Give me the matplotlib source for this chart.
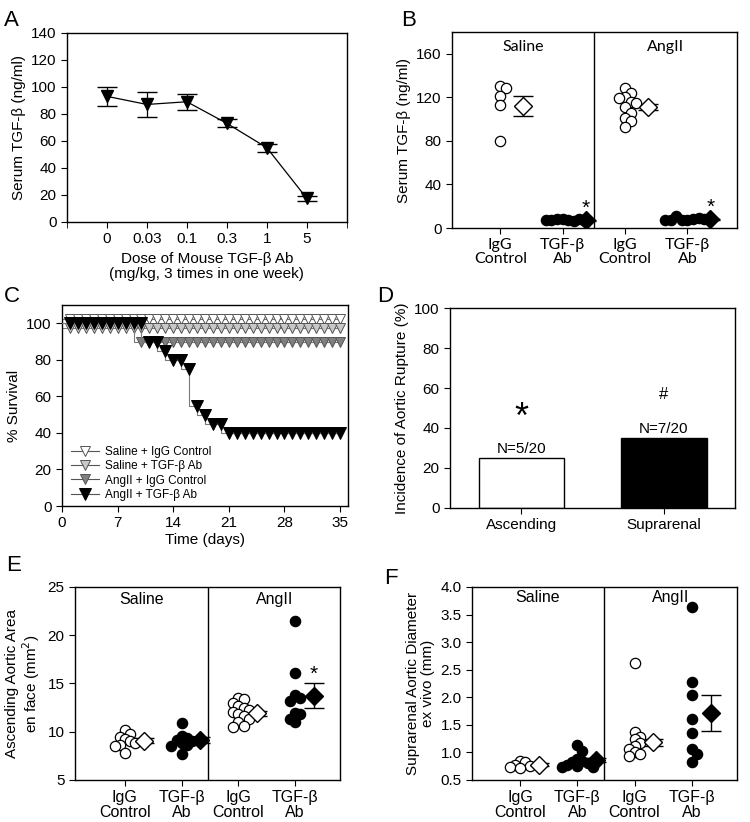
import matplotlib
matplotlib.use('Agg')
import matplotlib.pyplot as plt
import numpy as np

plt.rcParams['font.family'] = ['Liberation Sans', 'DejaVu Sans']
plt.rcParams['font.size'] = 11
plt.rcParams['xtick.direction'] = 'out'
plt.rcParams['ytick.direction'] = 'out'
plt.rcParams['axes.linewidth'] = 1.0

# ---- A: dose response
doses = ['0', '0.03', '0.1', '0.3', '1', '5']
dose_mean = [93, 87, 89, 73, 55, 17.5]
dose_err = [7, 9, 6, 3, 3, 2]

# ---- B: serum TGF-b
groups = ['IgG\nControl', 'TGF-β\nAb', 'IgG\nControl', 'TGF-β\nAb']
serum_pts = [
    [130, 129, 121, 113, 80],
    [8, 7, 8, 6, 7, 8, 7, 6],
    [129, 124, 120, 119, 116, 115, 111, 106, 101, 98, 93],
    [7, 8, 7, 9, 11, 8, 7, 8, 7],
]
serum_mean = [112, 7, 111, 8]
serum_err = [9, 0.8, 3, 0.6]

# ---- C: survival
days = list(range(1, 36))
surv_saline_igg = [100] * 35
surv_saline_ab = [100] * 35
surv_angii_igg = [100] * 9 + [90] * 26
surv_angii_ab = [100] * 10 + [90, 90, 85, 80, 80, 75, 55, 50, 45, 45] + [40] * 15
surv_labels = ['Saline + IgG Control', 'Saline + TGF-β Ab',
               'AngII + IgG Control', 'AngII + TGF-β Ab']

# ---- D: rupture incidence
sites = ['Ascending', 'Suprarenal']
rupture = [25, 35]
rupture_n = ['N=5/20', 'N=7/20']

# ---- E: ascending aortic area
area_pts = [
    [10.2, 9.8, 9.5, 9.2, 9.0, 8.8, 8.6, 8.5, 7.8],
    [10.9, 9.6, 9.3, 9.1, 9.0, 8.8, 8.6, 8.5, 7.7],
    [13.5, 13.4, 13.0, 12.7, 12.5, 12.3, 12.0, 11.8, 11.6, 11.3, 11.0, 10.6, 10.5],
    [21.5, 16.1, 13.8, 13.5, 13.2, 11.9, 11.8, 11.3, 11.0],
]
area_mean = [9.05, 9.15, 11.9, 13.75]
area_err = [0.25, 0.3, 0.25, 1.25]

# ---- F: suprarenal diameter
diam_pts = [
    [0.84, 0.82, 0.78, 0.76, 0.74, 0.72],
    [1.13, 1.03, 0.88, 0.84, 0.82, 0.80, 0.78, 0.76, 0.74, 0.73],
    [2.63, 1.37, 1.28, 1.24, 1.17, 1.12, 1.06, 1.01, 0.98, 0.94],
    [3.64, 2.27, 2.04, 1.61, 1.36, 1.07, 0.98, 0.83],
]
diam_mean = [0.78, 0.86, 1.18, 1.71]
diam_err = [0.02, 0.04, 0.06, 0.33]


def swarm(vals, ysep, dx):
    # simple deterministic beeswarm: push a dot sideways while it collides
    placed = []
    offs = []
    for v in vals:
        k = 0
        while True:
            cand = 0 if k == 0 else ((k + 1) // 2) * dx * (1 if k % 2 else -1)
            if all(abs(v - pv) >= ysep or abs(cand - po) >= dx * 0.99 for pv, po in placed):
                break
            k += 1
        placed.append((v, cand))
        offs.append(cand)
    return np.array(offs)


def box(ax):
    for s in ax.spines.values():
        s.set_linewidth(1.0)
    ax.tick_params(top=False, right=False, length=4)


fig = plt.figure(figsize=(7.5, 8.22), dpi=100)

# ================= A
ax = fig.add_axes([0.0893, 0.730, 0.373, 0.230])
xa = np.arange(1, len(doses) + 1)
ax.errorbar(xa, dose_mean, yerr=dose_err, color='black', lw=0.9, capsize=7,
            capthick=1.0, marker='v', ms=8, mfc='black', mec='black')
ax.set_xlim(0, 7)
ax.set_ylim(0, 140)
ax.set_yticks(range(0, 141, 20))
ax.set_xticks(xa)
ax.set_xticklabels(doses)
ax.set_xticks([0, 7], minor=True)
ax.tick_params(axis='x', which='minor', length=4)
ax.set_ylabel('Serum TGF-β (ng/ml)')
ax.set_xlabel('Dose of Mouse TGF-β Ab\n(mg/kg, 3 times in one week)', linespacing=1.1)
box(ax)
fig.text(0.005, 0.968, 'A', fontsize=16)


def dotpanel(rect, pts, means, errs, ylim, yticks, ylabel, xlim, divider,
             dot_sep, dot_dx, ms, dmark, label_font, top_y, stars, yfmt=None):
    ax = fig.add_axes(rect)
    for i, vals in enumerate(pts):
        pos = i + 1
        filled = i % 2 == 1
        offs = swarm(vals, dot_sep, dot_dx)
        ax.scatter(pos + offs, vals, s=ms, facecolor='black' if filled else 'white',
                   edgecolor='black', linewidth=0.9, zorder=3)
        ax.errorbar(pos + dmark, means[i], yerr=errs[i], color='black', lw=1.0,
                    capsize=7, capthick=1.0, zorder=2)
        ax.plot(pos + dmark, means[i], marker='D', ms=9, mfc='black' if filled else 'white',
                mec='black', mew=1.0, zorder=4)
    ax.axvline(divider, color='black', lw=1.0)
    ax.set_xlim(*xlim)
    ax.set_ylim(*ylim)
    ax.set_yticks(yticks)
    if yfmt:
        ax.set_yticklabels([yfmt.format(t) for t in yticks])
    ax.set_xticks(range(1, 5))
    ax.set_xticklabels(groups, linespacing=1.0, **label_font)
    ax.set_ylabel(ylabel, linespacing=1.1)
    ax.text((xlim[0] + divider) / 2, top_y, 'Saline', ha='center', va='top', **label_font)
    ax.text((divider + xlim[1]) / 2, top_y, 'AngII', ha='center', va='top', **label_font)
    for (sx, sy) in stars:
        ax.text(sx, sy, '*', ha='center', va='center', fontsize=15)
    box(ax)
    return ax


# ================= B
lato = {'family': ['Lato', 'DejaVu Sans'], 'fontsize': 11.5}
dotpanel([0.603, 0.7226, 0.38, 0.2384], serum_pts, serum_mean, serum_err,
         (0, 180), range(0, 161, 40), 'Serum TGF-β (ng/ml)', (0.23, 4.8), 2.51,
         6, 0.09, 55, 0.37, lato, 173,
         [(2.37, 18), (4.37, 19)])
fig.text(0.535, 0.968, 'B', fontsize=16)

# ================= C
ax = fig.add_axes([0.0827, 0.3844, 0.3813, 0.2445])
series = [surv_saline_igg, surv_saline_ab, surv_angii_igg, surv_angii_ab]
fcols = ['white', '#c8c8c8', '#808080', 'black']
shift = [2.5, -2.5, 0, 0]   # symbol offset so overlapping curves stay visible
msz = [7.5, 7.5, 7.5, 8]
x0 = [0] + days
for k, s in enumerate(series):
    y = np.array([100] + s, dtype=float) + shift[k]
    ax.step(x0, y, where='pre', color='#7a7a7a', lw=0.8, zorder=1 + k)
    ax.plot(days, np.array(s) + shift[k], ls='none', marker='v', ms=msz[k],
            mfc=fcols[k], mec='#555555' if k < 3 else 'black', mew=0.7, zorder=2 + k)
handles = [plt.Line2D([], [], color='#555555', lw=0.8, marker='v', ms=msz[k],
                      mfc=fcols[k], mec='#555555' if k < 3 else 'black', mew=0.7)
           for k in range(4)]
ax.legend(handles, surv_labels, loc='lower left', bbox_to_anchor=(0.005, -0.01),
          frameon=False, fontsize=8.5, handlelength=2.4, labelspacing=0.2,
          handletextpad=0.5, borderaxespad=0.2)
ax.set_xlim(0, 36)
ax.set_ylim(0, 110)
ax.set_xticks(range(0, 36, 7))
ax.set_yticks(range(0, 101, 20))
ax.set_ylabel('% Survival')
ax.set_xlabel('Time (days)', labelpad=2)
box(ax)
fig.text(0.005, 0.632, 'C', fontsize=16)

# ================= D
ax = fig.add_axes([0.6, 0.382, 0.38, 0.2433])
xd = np.arange(len(sites))
ax.bar(xd, rupture, width=0.6, color=['white', 'black'], edgecolor='black', lw=1.0)
for i in range(len(sites)):
    ax.text(xd[i], rupture[i] + 1, rupture_n[i], ha='center', va='bottom', fontsize=11)
ax.text(xd[0], 45, '*', ha='center', va='center', fontsize=26)
ax.text(xd[1], 57, '#', ha='center', va='center', fontsize=12)
ax.set_xlim(-0.5, 1.5)
ax.set_ylim(0, 100)
ax.set_xticks(xd)
ax.set_xticklabels(sites)
ax.set_yticks(range(0, 101, 20))
ax.set_ylabel('Incidence of Aortic Rupture (%)')
box(ax)
fig.text(0.503, 0.632, 'D', fontsize=16)

# ================= E
arial = {'fontsize': 11.5}
dotpanel([0.1, 0.0511, 0.3533, 0.2348], area_pts, area_mean, area_err,
         (5, 25), range(5, 26, 5), 'Ascending Aortic Area\nen face (mm$^2$)',
         (0.12, 4.79), 2.47, 0.7, 0.09, 55, 0.33, arial, 24.5,
         [(4.33, 15.9)])
fig.text(0.008, 0.305, 'E', fontsize=16)

# ================= F
dotpanel([0.6293, 0.0511, 0.3533, 0.2348], diam_pts, diam_mean, diam_err,
         (0.5, 4.0), np.arange(0.5, 4.01, 0.5), 'Suprarenal Aortic Diameter\nex vivo (mm)',
         (0.16, 4.79), 2.47, 0.11, 0.09, 55, 0.33, arial, 3.95,
         [], yfmt='{:.1f}')
fig.text(0.512, 0.29, 'F', fontsize=16)

plt.savefig('out.png', dpi=100, facecolor='white')
plt.close()
print('done')
